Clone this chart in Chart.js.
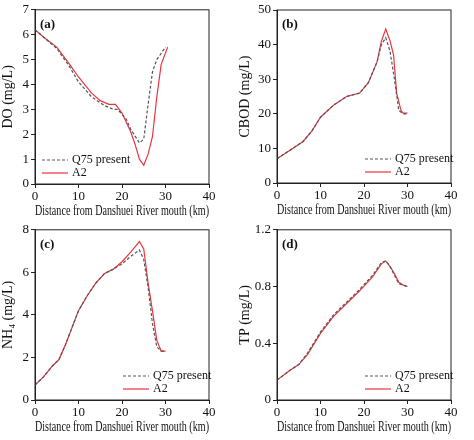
<!DOCTYPE html>
<html><head><meta charset="utf-8">
<script src="https://cdn.jsdelivr.net/npm/chart.js@4"></script>
<style>
body{margin:0;background:#fff;width:474px;height:440px;position:relative}
.p{position:absolute;width:237px;height:220px}
</style></head><body>
<div class="p" style="left:0;top:0"><canvas id="a"></canvas></div>
<div class="p" style="left:237px;top:0"><canvas id="b"></canvas></div>
<div class="p" style="left:0;top:220px"><canvas id="c"></canvas></div>
<div class="p" style="left:237px;top:220px"><canvas id="d"></canvas></div>
<script>
// x = distance (km), y = concentration
const doQ75 = [[0,6.2],[2,5.9],[5,5.45],[8,4.7],[10,4.1],[13,3.5],[16,3.15],[18,3.0],[19,3.0],[21,2.6],[22,2.2],[24,1.65],[25,1.8],[26,3.2],[27,4.5],[28,5.0],[30,5.5]];
const doA2 = [[0,6.2],[2,5.9],[5,5.5],[8,4.8],[10,4.3],[13,3.65],[15,3.35],[17,3.2],[18.5,3.2],[20,2.85],[22,2.1],[23,1.6],[24,1.0],[25,0.75],[26,1.2],[27,1.9],[28,3.5],[29,4.8],[30.5,5.5]];
const bodQ75 = [[0,7],[3,9.5],[6,12],[8,15],[10,19],[13,22.5],[16,25],[19,26],[21,29],[23,35],[24,40],[25,42],[26,38],[27,30],[28,21],[29,20],[30,20]];
const bodA2 = [[0,7],[3,9.5],[6,12],[8,15],[10,19],[13,22.5],[16,25],[19,26],[21,29],[23,35],[24,41],[25,44.5],[26,41],[26.8,37],[27.5,26],[28.5,21],[29,20.2],[30,20.2]];
const nhQ75 = [[0,0.7],[2,1.1],[4,1.6],[5.5,1.9],[7,2.6],[10,4.2],[12,4.9],[14,5.5],[16,5.95],[18,6.15],[20,6.4],[22,6.75],[24,7.05],[25,6.6],[26,5.3],[27,3.6],[28,2.5],[29,2.3],[30,2.3]];
const nhA2 = [[0,0.7],[2,1.1],[4,1.6],[5.5,1.9],[7,2.6],[10,4.2],[12,4.9],[14,5.5],[16,5.95],[18,6.15],[20,6.5],[22,6.95],[24,7.45],[25,7.1],[26,5.5],[27,4.2],[28,2.8],[29,2.3],[30,2.3]];
const tpQ75 = [[0,0.14],[3,0.21],[5,0.25],[7,0.33],[10,0.48],[13,0.6],[16,0.69],[19,0.78],[22,0.88],[24,0.97],[25,0.98],[26,0.94],[27,0.88],[28,0.82],[29,0.81],[30,0.8]];
const tpA2 = [[0,0.14],[3,0.21],[5,0.25],[7,0.32],[10,0.47],[13,0.59],[16,0.68],[19,0.77],[22,0.87],[24,0.96],[25,0.98],[26,0.94],[27,0.89],[28,0.83],[29,0.81],[30,0.8]];
const legendLabels = ['Q75 present', 'A2'];
const xTitle = 'Distance from Danshuei River mouth (km)';

const F = 'Liberation Serif';
const frame = {
  id: 'frame',
  afterDraw(ch) {
    const {ctx, chartArea: a} = ch, o = ch.options.plugins.frame;
    ctx.save();
    ctx.strokeStyle = '#222'; ctx.lineWidth = 1;
    ctx.strokeRect(a.left, a.top, a.right - a.left, a.bottom - a.top);
    ctx.fillStyle = '#111';
    ctx.font = 'bold 13px ' + F; ctx.textBaseline = 'middle';
    ctx.fillText(o.tag, a.left + 5, a.top + 15);
    ctx.font = '12px ' + F;
    const lx = o.left ? a.left + 7 : a.right - 86;
    ch.data.datasets.forEach((d, i) => {
      const y = a.bottom - 24 + i * 13;
      ctx.strokeStyle = d.borderColor; ctx.lineWidth = 1.2;
      ctx.setLineDash(d.borderDash || []);
      ctx.beginPath(); ctx.moveTo(lx, y); ctx.lineTo(lx + 26, y); ctx.stroke();
      ctx.setLineDash([]);
      ctx.fillText(d.label, lx + 30, y);
    });
    ctx.restore();
  }
};

function make(id, tag, q, a2, yMax, yStep, yTitle, yDec, left, pad) {
  const pts = arr => arr.map(p => ({x: p[0], y: p[1]}));
  new Chart(document.getElementById(id), {
    type: 'line',
    data: {datasets: [
      {label: legendLabels[0], data: pts(q), borderColor: '#555', borderDash: [3, 2], borderWidth: 1.2, pointRadius: 0},
      {label: legendLabels[1], data: pts(a2), borderColor: '#e8353f', borderWidth: 1.2, pointRadius: 0}
    ]},
    options: {
      responsive: true, maintainAspectRatio: false, animation: false,
      layout: {padding: pad},
      plugins: {legend: {display: false}, tooltip: {enabled: false}, frame: {tag, left}},
      scales: {
        x: {type: 'linear', min: 0, max: 40,
          ticks: {stepSize: 10, color: '#111', font: {family: F, size: 13}, padding: 1, maxRotation: 0},
          grid: {drawOnChartArea: false, tickLength: 4, color: '#222'}, border: {color: '#222'},
          title: {display: true, text: xTitle, color: '#111', font: {family: F, size: 14}, padding: 0},
          afterFit: s => { s.height = 36; }},
        y: {min: 0, max: yMax,
          ticks: {stepSize: yStep, color: '#111', font: {family: F, size: 13}, padding: 2,
            callback: v => (yDec && v !== 0) ? v.toFixed(1) : v},
          grid: {drawOnChartArea: false, tickLength: 4, color: '#222'}, border: {color: '#222'},
          title: {display: true, text: yTitle, color: '#111', font: {family: F, size: 14}, padding: 0},
          afterFit: s => { s.width = pad.w; }}
      }
    },
    plugins: [frame]
  });
}
make('a', '(a)', doQ75, doA2, 7, 1, 'DO (mg/L)', false, true, {top: 8, right: 28, left: 0, bottom: 0, w: 35});
make('b', '(b)', bodQ75, bodA2, 50, 10, 'CBOD (mg/L)', false, false, {top: 10, right: 23, left: 0, bottom: 1, w: 40});
make('c', '(c)', nhQ75, nhA2, 8, 2, 'NH₄ (mg/L)', false, false, {top: 6, right: 28, left: 0, bottom: 4, w: 35});
make('d', '(d)', tpQ75, tpA2, 1.2, 0.4, 'TP (mg/L)', true, false, {top: 6, right: 23, left: 0, bottom: 4, w: 40});
</script></body></html>
